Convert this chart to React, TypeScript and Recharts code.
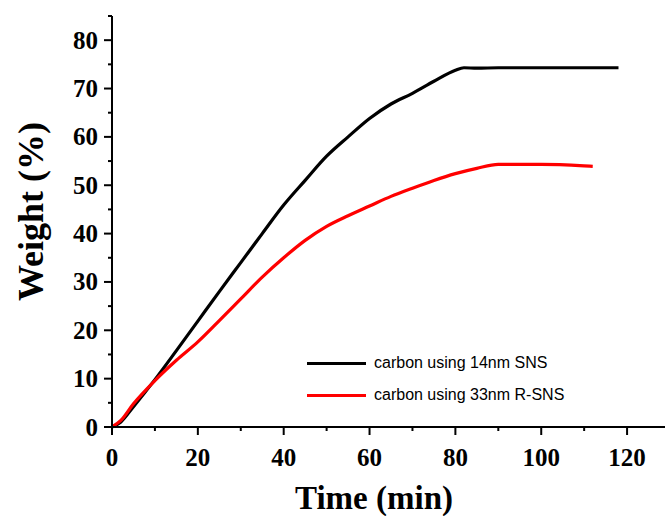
import React from 'react'
import { LineChart, Line, XAxis, YAxis, Label } from 'recharts'

const blackTime = [0, 2, 5, 10, 15, 20, 25, 30, 35, 40, 45, 50, 55, 60, 65, 70, 75, 80, 82, 85, 90, 100, 110, 118]
const blackWeight = [0, 1.0, 4.2, 9.8, 15.8, 21.9, 28, 34, 40, 45.9, 51, 56, 60, 63.8, 66.8, 69, 71.5, 73.8, 74.3, 74.2, 74.3, 74.3, 74.3, 74.3]

const redTime = [0, 2, 5, 10, 15, 20, 25, 30, 35, 40, 45, 50, 55, 60, 65, 70, 75, 80, 85, 90, 100, 110, 112]
const redWeight = [0, 1.3, 4.8, 9.6, 13.8, 17.6, 22, 26.5, 31, 35, 38.6, 41.5, 43.7, 45.7, 47.7, 49.4, 51, 52.4, 53.5, 54.3, 54.3, 54.0, 53.9]

const xMajorTicks = [0, 20, 40, 60, 80, 100, 120]
const xAllTicks = [0, 10, 20, 30, 40, 50, 60, 70, 80, 90, 100, 110, 120, 130]
const yAllTicks = [0, 5, 10, 15, 20, 25, 30, 35, 40, 45, 50, 55, 60, 65, 70, 75, 80, 85]

const seriesNames = ['carbon using 14nm SNS', 'carbon using 33nm R-SNS']
const seriesColors = ['#000000', '#ff0000']

const blackData = blackTime.map((t, i) => ({ t, w: blackWeight[i] }))
const redData = redTime.map((t, i) => ({ t, w: redWeight[i] }))

const serif = '"Liberation Serif", "Times New Roman", serif'

const MajorMinorTickY = (props: any) => {
  const { x, y, payload } = props
  const major = payload.value % 10 === 0 && payload.value <= 80
  const len = major ? 8 : 4
  return (
    <g>
      <line x1={x + 8 - len} x2={x + 8} y1={y} y2={y} stroke="#000" strokeWidth={2} />
      {major && (
        <text x={x - 6} y={y} dy={8.5} textAnchor="end" fontFamily={serif} fontWeight="bold" fontSize={25} fill="#000">
          {payload.value}
        </text>
      )}
    </g>
  )
}

const MajorMinorTickX = (props: any) => {
  const { x, y, payload } = props
  const major = xMajorTicks.includes(payload.value)
  const len = major ? 8 : 4
  return (
    <g>
      <line x1={x} x2={x} y1={y - 8} y2={y - 8 + len} stroke="#000" strokeWidth={2} />
      {major && (
        <text x={x} y={y} dy={31} textAnchor="middle" fontFamily={serif} fontWeight="bold" fontSize={25} fill="#000">
          {payload.value}
        </text>
      )}
    </g>
  )
}

const TopTick = (props: any) => {
  const { x, y, payload } = props
  const major = xMajorTicks.includes(payload.value)
  const len = major ? 4 : 3
  return <line x1={x} x2={x} y1={y} y2={y + len} stroke="#000" strokeWidth={1.5} />
}

const LegendBox = () => (
  <div
    style={{
      position: 'absolute',
      left: 307,
      top: 347,
      fontFamily: '"Liberation Sans", Arial, sans-serif',
      fontSize: 16,
      color: '#000',
    }}
  >
    {seriesNames.map((name, i) => (
      <div key={name} style={{ display: 'flex', alignItems: 'center', height: 32 }}>
        <div style={{ width: 59, height: 3, background: seriesColors[i], marginRight: 8 }} />
        <span>{name}</span>
      </div>
    ))}
  </div>
)

export default function App() {
  return (
    <div style={{ position: 'absolute', left: 0, top: 0, width: 665, height: 516, overflow: 'hidden', background: '#fff' }}>
      <LineChart width={682} height={516} margin={{ top: 16, right: 12, left: 50, bottom: 0 }}>
        <XAxis
          dataKey="t"
          type="number"
          domain={[0, 130]}
          ticks={xAllTicks}
          interval={0}
          allowDataOverflow
          height={89}
          axisLine={{ stroke: '#000', strokeWidth: 2 }}
          tickLine={false}
          tick={<MajorMinorTickX />}
        >
          <Label
            value="Time (min)"
            position="insideBottom"
            offset={7}
            dx={-17}
            style={{ fontFamily: serif, fontWeight: 'bold', fontSize: 33, fill: '#000' }}
          />
        </XAxis>
        <XAxis
          xAxisId="top"
          orientation="top"
          dataKey="t"
          type="number"
          domain={[0, 130]}
          ticks={xAllTicks}
          interval={0}
          height={0}
          axisLine={{ stroke: '#000', strokeWidth: 1.5 }}
          tickLine={false}
          tick={<TopTick />}
        />
        <YAxis
          dataKey="w"
          type="number"
          domain={[0, 85]}
          ticks={yAllTicks}
          interval={0}
          width={62}
          axisLine={{ stroke: '#000', strokeWidth: 2 }}
          tickLine={false}
          tick={<MajorMinorTickY />}
        >
          <Label
            value="Weight (%)"
            angle={-90}
            position="insideLeft"
            offset={-20}
            dy={-10}
            style={{ fontFamily: serif, fontWeight: 'bold', fontSize: 36, fill: '#000', textAnchor: 'middle' }}
          />
        </YAxis>
        <Line
          data={blackData}
          dataKey="w"
          name={seriesNames[0]}
          type="monotone"
          stroke={seriesColors[0]}
          strokeWidth={3.2}
          dot={false}
          isAnimationActive={false}
        />
        <Line
          data={redData}
          dataKey="w"
          name={seriesNames[1]}
          type="monotone"
          stroke={seriesColors[1]}
          strokeWidth={3.2}
          dot={false}
          isAnimationActive={false}
        />
      </LineChart>
      <LegendBox />
    </div>
  )
}
